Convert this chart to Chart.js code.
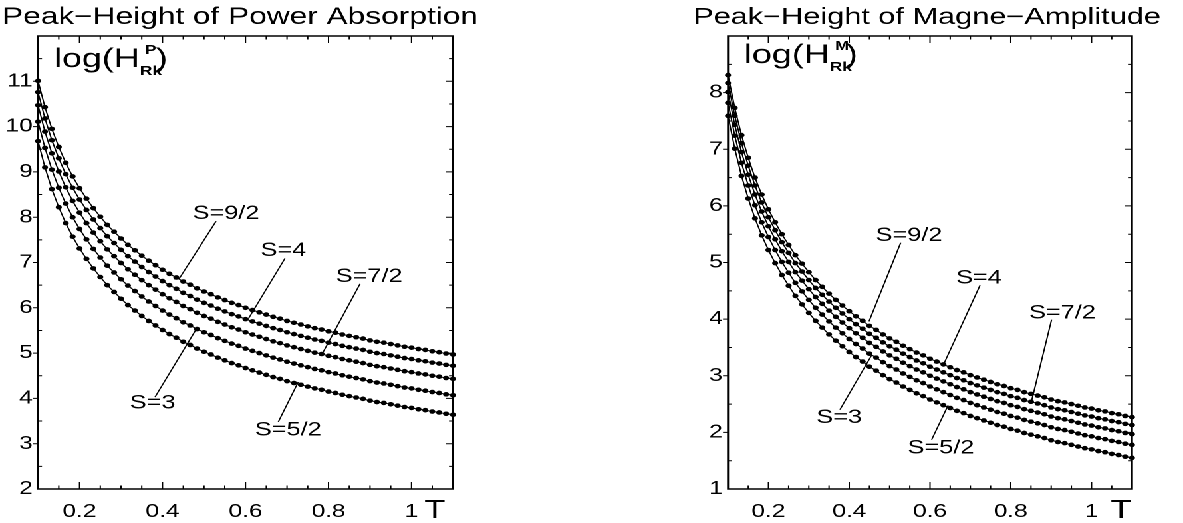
<!DOCTYPE html>
<html><head><meta charset="utf-8">
<script src="https://cdn.jsdelivr.net/npm/chart.js@4/dist/chart.umd.min.js"></script>
<style>
html,body{margin:0;padding:0;background:#fff;overflow:hidden;width:1183px;height:523px}
#wrap{position:absolute;left:0;top:0;width:890px;height:523px;transform:scaleX(1.33);transform-origin:0 0}
.box{position:absolute;top:0;height:523px}
#b1{left:0;width:370px}
#b2{left:500px;width:390px}
</style></head><body>
<div id="wrap"><div class="box" id="b1"><canvas id="c1"></canvas></div><div class="box" id="b2"><canvas id="c2"></canvas></div></div>
<script>
// Temperature axis (T)
const T = [0.1,0.1167,0.1333,0.15,0.1667,0.1833,0.2,0.2167,0.2333,0.25,0.2667,0.2833,0.3,0.3167,0.3333,0.35,0.3667,0.3833,0.4,0.4167,0.4333,0.45,0.4667,0.4833,0.5,0.5167,0.5333,0.55,0.5667,0.5833,0.6,0.6167,0.6333,0.65,0.6667,0.6833,0.7,0.7167,0.7333,0.75,0.7667,0.7833,0.8,0.8167,0.8333,0.85,0.8667,0.8833,0.9,0.9167,0.9333,0.95,0.9667,0.9833,1,1.0167,1.0333,1.05,1.0667,1.0833,1.1];
const seriesNames = ['S=9/2','S=4','S=7/2','S=3','S=5/2'];

// Peak-Height of Power Absorption: log(H^P_Rk)
const power92 = [11.01,10.43,9.95,9.55,9.20,8.90,8.64,8.41,8.20,8.01,7.83,7.68,7.53,7.39,7.27,7.15,7.04,6.94,6.84,6.75,6.67,6.58,6.51,6.43,6.36,6.30,6.23,6.17,6.11,6.06,6.00,5.95,5.90,5.85,5.80,5.76,5.71,5.67,5.63,5.59,5.55,5.52,5.48,5.45,5.41,5.38,5.35,5.32,5.28,5.25,5.23,5.20,5.17,5.14,5.12,5.09,5.07,5.04,5.02,4.99,4.97];
const power4  = [10.76,10.18,9.70,9.30,8.95,8.65,8.39,8.16,7.95,7.76,7.58,7.43,7.28,7.14,7.02,6.90,6.79,6.69,6.59,6.50,6.42,6.33,6.26,6.18,6.11,6.05,5.98,5.92,5.86,5.81,5.75,5.70,5.65,5.60,5.55,5.51,5.46,5.42,5.38,5.34,5.30,5.27,5.23,5.20,5.16,5.13,5.10,5.07,5.03,5.00,4.98,4.95,4.92,4.89,4.87,4.84,4.82,4.79,4.77,4.74,4.72];
const power72 = [10.47,9.89,9.41,9.01,8.66,8.36,8.10,7.87,7.66,7.47,7.29,7.14,6.99,6.85,6.73,6.61,6.50,6.40,6.30,6.21,6.13,6.04,5.97,5.89,5.82,5.76,5.69,5.63,5.57,5.52,5.46,5.41,5.36,5.31,5.26,5.22,5.17,5.13,5.09,5.05,5.01,4.98,4.94,4.91,4.87,4.84,4.81,4.78,4.74,4.71,4.69,4.66,4.63,4.60,4.58,4.55,4.53,4.50,4.48,4.45,4.43];
const power3  = [10.11,9.53,9.05,8.65,8.30,8.00,7.74,7.51,7.30,7.11,6.93,6.78,6.63,6.49,6.37,6.25,6.14,6.04,5.94,5.85,5.77,5.68,5.61,5.53,5.46,5.40,5.33,5.27,5.21,5.16,5.10,5.05,5.00,4.95,4.90,4.86,4.81,4.77,4.73,4.69,4.65,4.62,4.58,4.55,4.51,4.48,4.45,4.42,4.38,4.35,4.33,4.30,4.27,4.24,4.22,4.19,4.17,4.14,4.12,4.09,4.07];
const power52 = [9.68,9.10,8.62,8.22,7.87,7.57,7.31,7.08,6.87,6.68,6.50,6.35,6.20,6.06,5.94,5.82,5.71,5.61,5.51,5.42,5.34,5.25,5.18,5.10,5.03,4.97,4.90,4.84,4.78,4.73,4.67,4.62,4.57,4.52,4.47,4.43,4.38,4.34,4.30,4.26,4.22,4.19,4.15,4.12,4.08,4.05,4.02,3.99,3.95,3.92,3.90,3.87,3.84,3.81,3.79,3.76,3.74,3.71,3.69,3.66,3.64];

// Peak-Height of Magne-Amplitude: log(H^M_Rk)
const magne92 = [8.31,7.73,7.25,6.85,6.50,6.20,5.94,5.71,5.50,5.31,5.13,4.98,4.83,4.69,4.57,4.45,4.34,4.24,4.14,4.05,3.97,3.88,3.81,3.73,3.66,3.60,3.53,3.47,3.41,3.36,3.30,3.25,3.20,3.15,3.10,3.06,3.01,2.97,2.93,2.89,2.85,2.82,2.78,2.75,2.71,2.68,2.65,2.62,2.58,2.55,2.53,2.50,2.47,2.44,2.42,2.39,2.37,2.34,2.32,2.29,2.27];
const magne4  = [8.17,7.59,7.11,6.71,6.36,6.06,5.80,5.57,5.36,5.17,4.99,4.84,4.69,4.55,4.43,4.31,4.20,4.10,4.00,3.91,3.83,3.74,3.67,3.59,3.52,3.46,3.39,3.33,3.27,3.22,3.16,3.11,3.06,3.01,2.96,2.92,2.87,2.83,2.79,2.75,2.71,2.68,2.64,2.61,2.57,2.54,2.51,2.48,2.44,2.41,2.39,2.36,2.33,2.30,2.28,2.25,2.23,2.20,2.18,2.15,2.13];
const magne72 = [8.01,7.43,6.95,6.55,6.20,5.90,5.64,5.41,5.20,5.01,4.83,4.68,4.53,4.39,4.27,4.15,4.04,3.94,3.84,3.75,3.67,3.58,3.51,3.43,3.36,3.30,3.23,3.17,3.11,3.06,3.00,2.95,2.90,2.85,2.80,2.76,2.71,2.67,2.63,2.59,2.55,2.52,2.48,2.45,2.41,2.38,2.35,2.32,2.28,2.25,2.23,2.20,2.17,2.14,2.12,2.09,2.07,2.04,2.02,1.99,1.97];
const magne3  = [7.82,7.24,6.76,6.36,6.01,5.71,5.45,5.22,5.01,4.82,4.64,4.49,4.34,4.20,4.08,3.96,3.85,3.75,3.65,3.56,3.48,3.39,3.32,3.24,3.17,3.11,3.04,2.98,2.92,2.87,2.81,2.76,2.71,2.66,2.61,2.57,2.52,2.48,2.44,2.40,2.36,2.33,2.29,2.26,2.22,2.19,2.16,2.13,2.09,2.06,2.04,2.01,1.98,1.95,1.93,1.90,1.88,1.85,1.83,1.80,1.78];
const magne52 = [7.59,7.01,6.53,6.13,5.78,5.48,5.22,4.99,4.78,4.59,4.41,4.26,4.11,3.97,3.85,3.73,3.62,3.52,3.42,3.33,3.25,3.16,3.09,3.01,2.94,2.88,2.81,2.75,2.69,2.64,2.58,2.53,2.48,2.43,2.38,2.34,2.29,2.25,2.21,2.17,2.13,2.10,2.06,2.03,1.99,1.96,1.93,1.90,1.86,1.83,1.81,1.78,1.75,1.72,1.70,1.67,1.65,1.62,1.60,1.57,1.55];

// tick labels
const xTickValues = [0.2,0.4,0.6,0.8,1];
const powerYTicks = [2,3,4,5,6,7,8,9,10,11];
const magneYTicks = [1,2,3,4,5,6,7,8];

// curve labels (data coordinates): label centre, leader start, leader end
const powerNotes = [
  {text:'S=9/2', at:[0.553,8.08], from:[0.529,7.91], to:[0.440,6.64]},
  {text:'S=4',   at:[0.691,7.26], from:[0.695,7.09], to:[0.607,5.76]},
  {text:'S=7/2', at:[0.898,6.68], from:[0.876,6.53], to:[0.787,5.02]},
  {text:'S=3',   at:[0.376,3.89], from:[0.382,4.03], to:[0.482,5.54]},
  {text:'S=5/2', at:[0.703,3.30], from:[0.679,3.48], to:[0.727,4.36]}
];
const magneNotes = [
  {text:'S=9/2', at:[0.548,5.47], from:[0.5275,5.35], to:[0.449,3.96]},
  {text:'S=4',   at:[0.721,4.72], from:[0.724,4.60], to:[0.633,3.19]},
  {text:'S=7/2', at:[0.928,4.10], from:[0.901,3.99], to:[0.852,2.57]},
  {text:'S=3',   at:[0.375,2.26], from:[0.377,2.40], to:[0.456,3.37]},
  {text:'S=5/2', at:[0.627,1.72], from:[0.604,1.87], to:[0.645,2.48]}
];

const FONT = '"Liberation Sans", Arial, Helvetica, sans-serif';

function decorPlugin(cfg){
  return {
    id: 'decor_' + cfg.id,
    afterDraw(chart){
      const ctx = chart.ctx, a = chart.chartArea, sx = chart.scales.x, sy = chart.scales.y;
      ctx.save();
      ctx.strokeStyle = '#000'; ctx.fillStyle = '#000';
      // frame
      ctx.lineWidth = 1.5;
      ctx.strokeRect(a.left, a.top, a.right - a.left, a.bottom - a.top);
      // ticks
      ctx.lineWidth = 1;
      ctx.beginPath();
      for (let i = 1; i < 20; i++){
        const v = 0.1 + i * 0.05;
        const major = Math.abs(v / 0.2 - Math.round(v / 0.2)) < 1e-6;
        const px = sx.getPixelForValue(v);
        const L = major ? 7 : 3.5;
        ctx.moveTo(px, a.bottom); ctx.lineTo(px, a.bottom - L);
        ctx.moveTo(px, a.top); ctx.lineTo(px, a.top + L);
      }
      for (let v = cfg.yMin + 0.5; v < cfg.yMax - 1e-6; v += 0.5){
        const major = Math.abs(v - Math.round(v)) < 1e-6;
        const py = sy.getPixelForValue(v);
        if (major){
          ctx.moveTo(a.left - 3.8, py); ctx.lineTo(a.left, py);
          ctx.moveTo(a.right, py); ctx.lineTo(a.right - 5.3, py);
        } else {
          ctx.moveTo(a.left, py); ctx.lineTo(a.left + 3, py);
          ctx.moveTo(a.right, py); ctx.lineTo(a.right - 3, py);
        }
      }
      ctx.stroke();
      // title
      ctx.textAlign = 'left'; ctx.textBaseline = 'alphabetic';
      ctx.font = cfg.titleSize + 'px ' + FONT;
      ctx.fillText(cfg.title, cfg.titleX, 24);
      // y label log(H^X_Rk)
      const lx = a.left + 12, lb = cfg.labelBase;
      ctx.font = '27px ' + FONT;
      ctx.fillText('log(H', lx, lb);
      const w = ctx.measureText('log(H').width;
      ctx.font = 'bold 12.5px ' + FONT;
      ctx.fillText(cfg.sup, lx + w + 4, lb - 13);
      ctx.font = 'bold 13px ' + FONT;
      ctx.fillText('Rk', lx + w, lb + 8);
      ctx.font = '27px ' + FONT;
      ctx.fillText(')', lx + w + 12, lb);
      // T axis label
      ctx.textAlign = 'center';
      ctx.font = '26px ' + FONT;
      ctx.fillText('T', cfg.tX, 518);
      // curve labels with leaders
      ctx.lineWidth = 1;
      ctx.font = '19px ' + FONT;
      ctx.textBaseline = 'middle';
      cfg.notes.forEach(n => {
        ctx.beginPath();
        ctx.moveTo(sx.getPixelForValue(n.from[0]), sy.getPixelForValue(n.from[1]));
        ctx.lineTo(sx.getPixelForValue(n.to[0]), sy.getPixelForValue(n.to[1]));
        ctx.stroke();
        ctx.fillText(n.text, sx.getPixelForValue(n.at[0]), sy.getPixelForValue(n.at[1]));
      });
      ctx.restore();
    }
  };
}

function makeChart(canvasId, cfg){
  const datasets = cfg.series.map((vals, i) => ({
    label: seriesNames[i],
    data: T.map((t, j) => ({x: t, y: vals[j]})),
    borderColor: '#000', backgroundColor: '#000', borderWidth: 1,
    pointRadius: 2.3, pointHoverRadius: 2.3, pointBorderWidth: 0,
    pointBackgroundColor: '#000', tension: 0, fill: false, clip: false
  }));
  return new Chart(document.getElementById(canvasId), {
    type: 'line',
    data: {datasets},
    options: {
      responsive: true, maintainAspectRatio: false, animation: false,
      devicePixelRatio: 2, events: [],
      layout: {padding: cfg.padding},
      plugins: {legend: {display: false}, tooltip: {enabled: false}, title: {display: false}},
      scales: {
        x: {
          type: 'linear', min: 0.1, max: 1.1,
          grid: {display: false, drawTicks: false}, border: {display: false},
          afterBuildTicks: s => { s.ticks = xTickValues.map(v => ({value: v})); },
          afterFit: s => { s.height = 34; },
          ticks: {color: '#000', font: {family: FONT, size: 18.4}, padding: 12,
                  maxRotation: 0, autoSkip: false, callback: v => String(v)}
        },
        y: {
          type: 'linear', min: cfg.yMin, max: cfg.yMax,
          grid: {display: false, drawTicks: false}, border: {display: false},
          afterBuildTicks: s => { s.ticks = cfg.yTicks.map(v => ({value: v})); },
          afterFit: s => { s.width = 28.6; },
          ticks: {color: '#000', font: {family: FONT, size: 18.4}, padding: 4,
                  autoSkip: false, callback: v => String(v)}
        }
      }
    },
    plugins: [decorPlugin(cfg)]
  });
}

makeChart('c1', {
  id: 'power', series: [power92, power4, power72, power3, power52],
  yMin: 2, yMax: 12, yTicks: powerYTicks,
  padding: {left: 0, right: 29.4, top: 36, bottom: 0},
  title: 'Peak\u2212Height of Power Absorption', titleX: 1.5, titleSize: 23.8,
  sup: 'P', labelBase: 67, tX: 327, notes: powerNotes
});
makeChart('c2', {
  id: 'magne', series: [magne92, magne4, magne72, magne3, magne52],
  yMin: 1, yMax: 9, yTicks: magneYTicks,
  padding: {left: 18.8, right: 38.9, top: 36, bottom: 0},
  title: 'Peak\u2212Height of Magne\u2212Amplitude', titleX: 21.1, titleSize: 23.1,
  sup: 'M', labelBase: 63, tX: 342.9, notes: magneNotes
});
</script>
</body></html>
